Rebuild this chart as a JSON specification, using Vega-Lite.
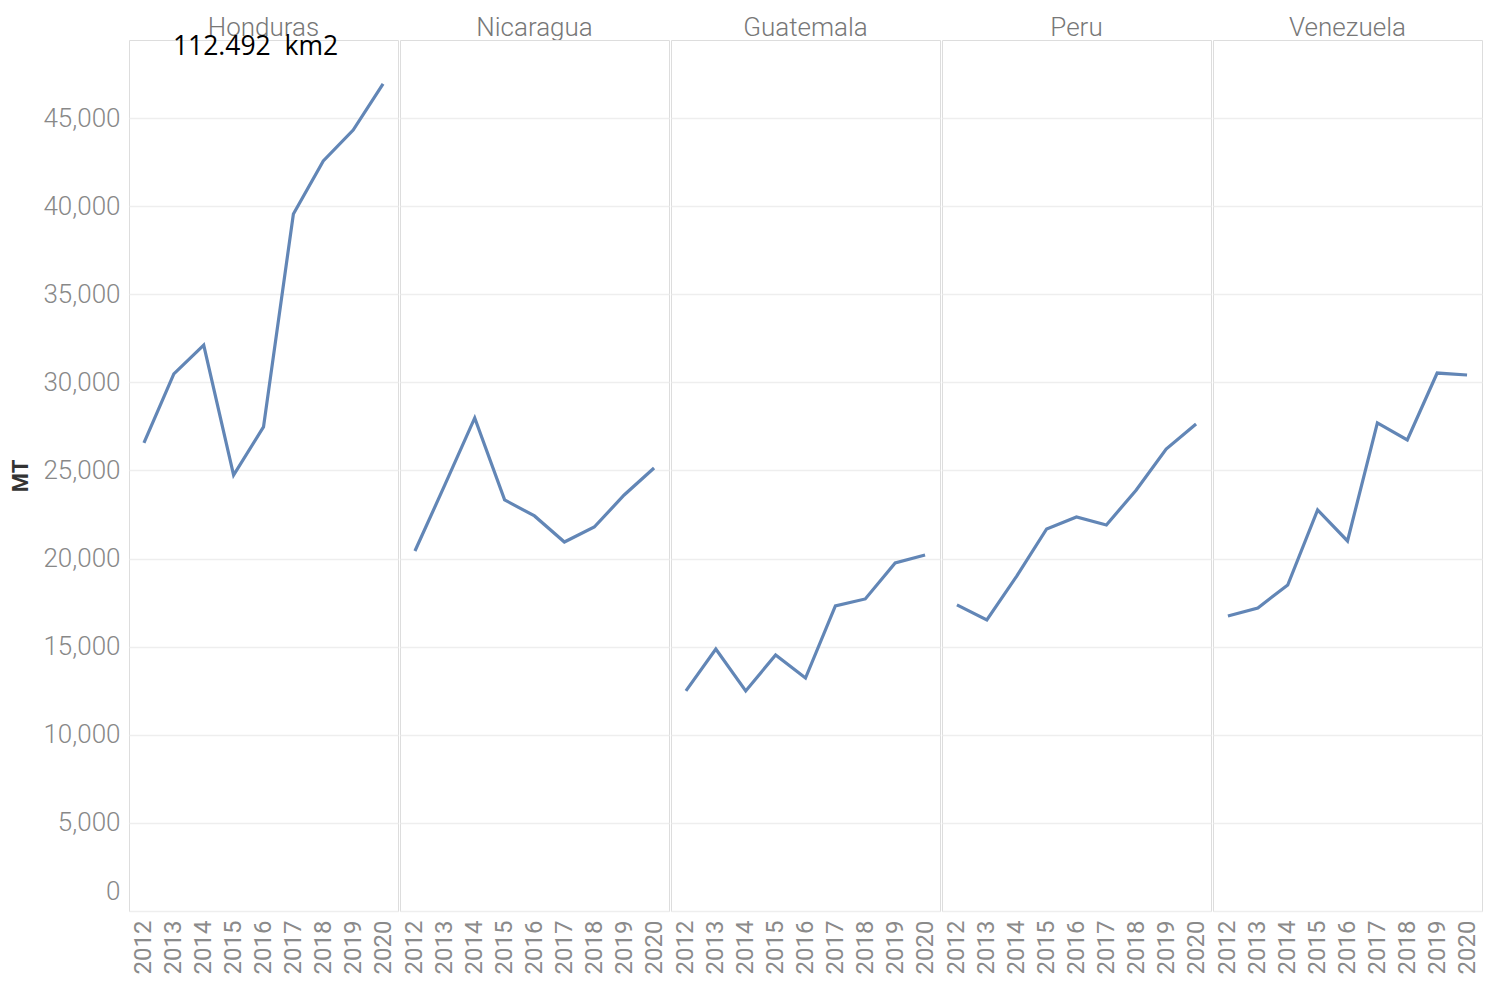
{
  "$schema": "https://vega.github.io/schema/vega-lite/v6.json",
  "padding": {"left": 9, "top": 15, "right": 0, "bottom": 0},
  "background": "white",
  "data": {"values": [
    {"country":"Honduras","year":"2012","mt":26560},
    {"country":"Honduras","year":"2013","mt":30480},
    {"country":"Honduras","year":"2014","mt":32120},
    {"country":"Honduras","year":"2015","mt":24740},
    {"country":"Honduras","year":"2016","mt":27470,"note":"112.492\u00a0 km2"},
    {"country":"Honduras","year":"2017","mt":39560},
    {"country":"Honduras","year":"2018","mt":42570},
    {"country":"Honduras","year":"2019","mt":44320},
    {"country":"Honduras","year":"2020","mt":46940},
    {"country":"Nicaragua","year":"2012","mt":20430},
    {"country":"Nicaragua","year":"2013","mt":24180},
    {"country":"Nicaragua","year":"2014","mt":27980},
    {"country":"Nicaragua","year":"2015","mt":23330},
    {"country":"Nicaragua","year":"2016","mt":22420},
    {"country":"Nicaragua","year":"2017","mt":20940},
    {"country":"Nicaragua","year":"2018","mt":21790},
    {"country":"Nicaragua","year":"2019","mt":23610},
    {"country":"Nicaragua","year":"2020","mt":25140},
    {"country":"Guatemala","year":"2012","mt":12490},
    {"country":"Guatemala","year":"2013","mt":14870},
    {"country":"Guatemala","year":"2014","mt":12490},
    {"country":"Guatemala","year":"2015","mt":14530},
    {"country":"Guatemala","year":"2016","mt":13220},
    {"country":"Guatemala","year":"2017","mt":17310},
    {"country":"Guatemala","year":"2018","mt":17710},
    {"country":"Guatemala","year":"2019","mt":19750},
    {"country":"Guatemala","year":"2020","mt":20200},
    {"country":"Peru","year":"2012","mt":17370},
    {"country":"Peru","year":"2013","mt":16520},
    {"country":"Peru","year":"2014","mt":19010},
    {"country":"Peru","year":"2015","mt":21680},
    {"country":"Peru","year":"2016","mt":22360},
    {"country":"Peru","year":"2017","mt":21910},
    {"country":"Peru","year":"2018","mt":23890},
    {"country":"Peru","year":"2019","mt":26220},
    {"country":"Peru","year":"2020","mt":27640},
    {"country":"Venezuela","year":"2012","mt":16740},
    {"country":"Venezuela","year":"2013","mt":17200},
    {"country":"Venezuela","year":"2014","mt":18500},
    {"country":"Venezuela","year":"2015","mt":22760},
    {"country":"Venezuela","year":"2016","mt":21000},
    {"country":"Venezuela","year":"2017","mt":27700},
    {"country":"Venezuela","year":"2018","mt":26730},
    {"country":"Venezuela","year":"2019","mt":30530},
    {"country":"Venezuela","year":"2020","mt":30420}
  ]},
  "facet": {
    "column": {
      "field": "country",
      "type": "nominal",
      "sort": ["Honduras","Nicaragua","Guatemala","Peru","Venezuela"],
      "header": {
        "title": null,
        "labelFont": "Roboto",
        "labelFontWeight": 300,
        "labelFontSize": 26,
        "labelColor": "#777777",
        "labelPadding": -8
      }
    }
  },
  "spacing": 0,
  "spec": {
    "width": 269,
    "height": 871,
    "encoding": {
      "x": {
        "field": "year",
        "type": "ordinal",
        "scale": {"type": "point", "padding": 0.5},
        "axis": {
          "title": null,
          "labelAngle": -90,
          "labelFont": "Roboto",
          "labelFontSize": 24,
          "labelColor": "#8a8a8a",
          "labelPadding": 8,
          "ticks": false,
          "domain": false,
          "grid": false
        }
      },
      "y": {
        "field": "mt",
        "type": "quantitative",
        "scale": {"domain": [0, 49430], "nice": false, "zero": true},
        "axis": {
          "title": "MT",
          "titleFont": "Roboto",
          "titleFontSize": 22,
          "titleFontWeight": "bold",
          "titleColor": "#333333",
          "titlePadding": 10,
          "values": [0,5000,10000,15000,20000,25000,30000,35000,40000,45000],
          "format": ",d",
          "labelFont": "Roboto",
          "labelFontWeight": 300,
          "labelFontSize": 26,
          "labelColor": "#888888",
          "labelPadding": 8,
          "labelOffset": {"condition": {"test": "datum.value === 0", "value": -20}, "value": 0},
          "ticks": false,
          "domain": false,
          "gridColor": "#eeeeee",
          "gridWidth": 1.5
        }
      }
    },
    "layer": [
      {
        "mark": {"type": "line", "color": "#6286b6", "strokeWidth": 3.2}
      },
      {
        "transform": [{"filter": "datum.note"}],
        "mark": {"type": "text", "font": "Open Sans", "fontSize": 26.5, "color": "#000000", "dx": -8, "dy": 2},
        "encoding": {
          "y": {"datum": 49150},
          "text": {"field": "note"}
        }
      }
    ]
  },
  "config": {
    "view": {"stroke": "#dddddd", "strokeWidth": 1}
  }
}
